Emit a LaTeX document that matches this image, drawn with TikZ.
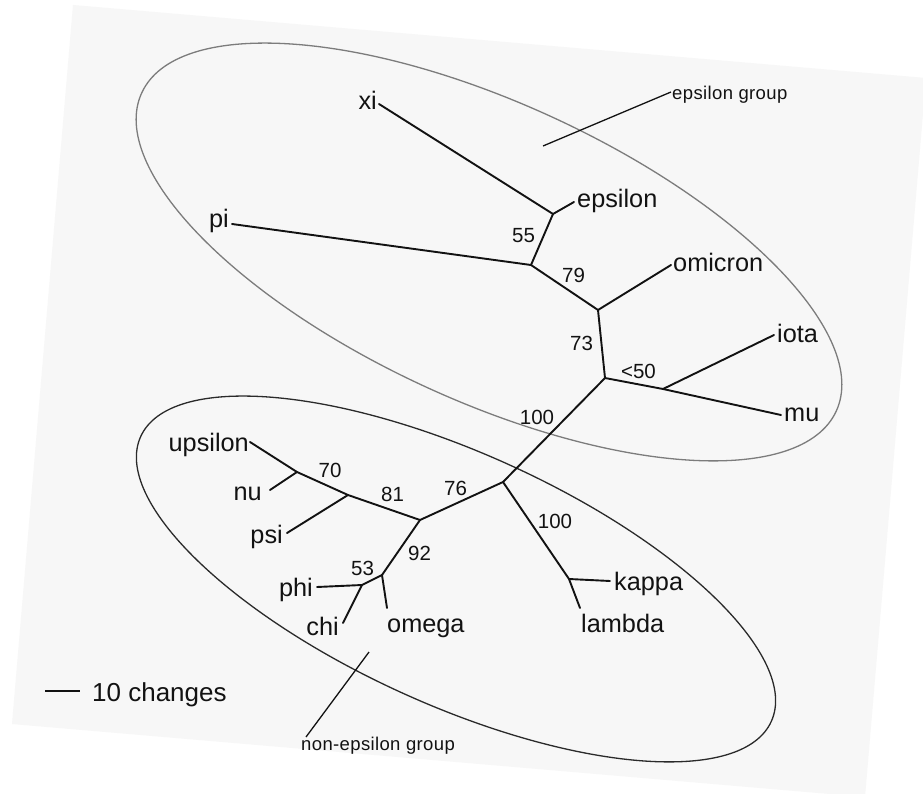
\documentclass[tikz,border=0pt]{standalone}
\usepackage{fontspec}
\setmainfont{Liberation Sans}
\definecolor{pagegray}{HTML}{F7F7F7}
\definecolor{inkc}{HTML}{121212}
\definecolor{ellgray}{HTML}{7C7C7C}
\definecolor{elldark}{HTML}{2A2A2A}
\begin{document}
\begin{tikzpicture}[x=1pt,y=-1pt,
  branch/.style={draw=inkc, line width=1.9pt, line cap=round, line join=round},
  leaf/.style={inner sep=0pt, font=\fontsize{25.3}{30}\selectfont, text=inkc},
  boot/.style={inner sep=0pt, font=\fontsize{20.5}{24}\selectfont, text=inkc},
  grp/.style={inner sep=0pt, font=\fontsize{18.5}{21}\selectfont\addfontfeature{LetterSpace=2}, text=inkc},
  ptr/.style={draw=inkc, line width=1.3pt},
  ellup/.style={draw=ellgray, line width=1.3pt},
  elllow/.style={draw=elldark, line width=1.3pt}
]
\useasboundingbox (0,0) rectangle (923,794);
\begin{scope}
  \clip (0,0) rectangle (923,794);
  \fill[white] (0,0) rectangle (923,794);
  \fill[pagegray] (73,5) -- (926,78) -- (865,797) -- (12,724) -- cycle;
\end{scope}

% group ellipses
\coordinate (cUp) at (489,252);
\coordinate (cLow) at (456,579);
\draw[ellup, rotate around={-24.6:(cUp)}] (cUp) ellipse [x radius=382pt, y radius=149pt];
\draw[elllow, rotate around={-24.3:(cLow)}] (cLow) ellipse [x radius=346pt, y radius=126pt];

% internal nodes
\coordinate (nE) at (553,214);
\coordinate (nP) at (531,265);
\coordinate (nO) at (598,310);
\coordinate (nR) at (605,378);
\coordinate (nIM) at (663,389);
\coordinate (nK) at (503,482);
\coordinate (nKL) at (569,579);
\coordinate (nA) at (420,520);
\coordinate (nPsi) at (348,495);
\coordinate (nNu) at (297,472);
\coordinate (nOm) at (382,575);
\coordinate (nPC) at (362,585);

% leaf ends
\coordinate (eXi) at (379,104);
\coordinate (eEps) at (574,202);
\coordinate (ePi) at (232,224);
\coordinate (eOmi) at (671,265);
\coordinate (eIota) at (774,335);
\coordinate (eMu) at (781,415);
\coordinate (eUps) at (250,442);
\coordinate (eNu) at (270,490);
\coordinate (ePsi) at (287,533);
\coordinate (ePhi) at (317,587);
\coordinate (eChi) at (343,623);
\coordinate (eOmega) at (387,608);
\coordinate (eKappa) at (610,581);
\coordinate (eLambda) at (580,608);

% branches
\draw[branch] (eXi) -- (nE) -- (eEps);
\draw[branch] (nE) -- (nP) -- (ePi);
\draw[branch] (nP) -- (nO) -- (eOmi);
\draw[branch] (nO) -- (nR) -- (nIM) -- (eMu);
\draw[branch] (nIM) -- (eIota);
\draw[branch] (nR) -- (nK) -- (nA);
\draw[branch] (nA) -- (nPsi) -- (nNu) -- (eUps);
\draw[branch] (nNu) -- (eNu);
\draw[branch] (nPsi) -- (ePsi);
\draw[branch] (nA) -- (nOm) -- (eOmega);
\draw[branch] (nOm) -- (nPC) -- (ePhi);
\draw[branch] (nPC) -- (eChi);
\draw[branch] (nK) -- (nKL) -- (eLambda);
\draw[branch] (nKL) -- (eKappa);

% leaf labels
\node[leaf, anchor=base east] (tXi) at (377,110) {xi};
\node[leaf, anchor=base west] (tEps) at (577,208) {epsilon};
\node[leaf, anchor=base east] (tPi) at (229,228) {pi};
\node[leaf, anchor=base west] (tOmi) at (673,272) {omicron};
\node[leaf, anchor=base west] (tIota) at (777,342) {iota};
\node[leaf, anchor=base west] (tMu) at (784,421) {mu};
\node[leaf, anchor=base east] (tUps) at (249,451) {upsilon};
\node[leaf, anchor=base east] (tNu) at (262,500) {nu};
\node[leaf, anchor=base east] (tPsi) at (283,543) {psi};
\node[leaf, anchor=base east] (tPhi) at (313,596) {phi};
\node[leaf, anchor=base east] (tChi) at (339,635) {chi};
\node[leaf, anchor=base west] (tOmega) at (387,632) {omega};
\node[leaf, anchor=base west] (tKappa) at (614,590) {kappa};
\node[leaf, anchor=base west] (tLambda) at (581,632) {lambda};

% bootstrap values
\node[boot, anchor=base] (b55) at (523.5,243) {55};
\node[boot, anchor=base] (b79) at (573.5,282) {79};
\node[boot, anchor=base] (b73) at (581.5,350) {73};
\node[boot, anchor=base] (b50) at (638.5,378) {<50};
\node[boot, anchor=base] (b100a) at (537,424) {100};
\node[boot, anchor=base] (b70) at (330,477) {70};
\node[boot, anchor=base] (b81) at (392.5,501) {81};
\node[boot, anchor=base] (b76) at (455.5,495) {76};
\node[boot, anchor=base] (b92) at (419.5,560) {92};
\node[boot, anchor=base] (b53) at (362.5,575) {53};
\node[boot, anchor=base] (b100b) at (555,528) {100};

% group labels with pointers
\coordinate (pEa) at (543,146);
\coordinate (pEb) at (671,92);
\draw[ptr] (pEa) -- (pEb);
\node[grp, anchor=base west] (gEps) at (672,99.5) {epsilon group};
\coordinate (pNa) at (369,652);
\coordinate (pNb) at (306,737);
\draw[ptr] (pNa) -- (pNb);
\node[grp, anchor=base west] (gNon) at (301,750) {non-epsilon group};

% scale bar
\coordinate (sA) at (45,691);
\coordinate (sB) at (80,691);
\draw[branch, line cap=butt] (sA) -- (sB);
\node[leaf, font=\fontsize{26}{30}\selectfont, anchor=base west] (tScale) at (92,701) {10 changes};
\end{tikzpicture}
\end{document}
